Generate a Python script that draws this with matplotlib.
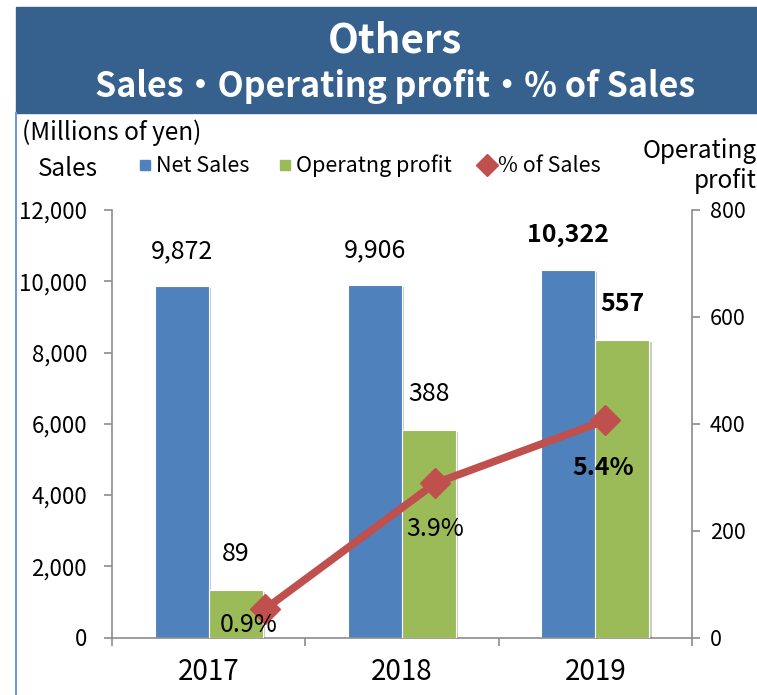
import matplotlib.pyplot as plt
import matplotlib.patheffects as pe
from matplotlib.lines import Line2D
from matplotlib.patches import Rectangle
import numpy as np

plt.rcParams['font.family'] = ['Noto Sans CJK JP', 'DejaVu Sans']

# data
years = ['2017', '2018', '2019']
net_sales = [9872, 9906, 10322]
op_profit = [89, 388, 557]
pct_sales = [0.9, 3.9, 5.4]
highlight = [False, False, True]
legend_names = ['Net Sales', 'Operatng profit', '% of Sales']

blue = '#4F81BD'
green = '#9BBB59'
red = '#C0504D'
axis_col = '#8C8C8C'

fig = plt.figure(figsize=(7.57, 6.95), dpi=100)

# title banner
fig.add_artist(Rectangle((16 / 757, 1 - 113 / 695), 1, 106 / 695,
                         transform=fig.transFigure, color='#36618F', zorder=0))
fig.add_artist(Line2D([16 / 757, 16 / 757], [0, 1 - 113 / 695],
                      transform=fig.transFigure, color='#6F9BD1', lw=1.5))
fig.text(395 / 757, 1 - 41 / 695, 'Others', color='white', fontsize=29,
         fontweight='bold', ha='center', va='center')
fig.text(395 / 757, 1 - 87 / 695, 'Sales・Operating profit・% of Sales',
         color='white', fontsize=24.5, fontweight='bold', ha='center', va='center')

rect = [112 / 757, 1 - 637.5 / 695, 580 / 757, 427.5 / 695]
ax = fig.add_axes(rect)
ax2 = ax.twinx()
ax3 = fig.add_axes(rect)

x = np.arange(len(years))
w = 0.28
shadow = [pe.SimplePatchShadow(offset=(1.5, -1.5), alpha=0.25), pe.Normal()]
b1 = ax.bar(x - w / 2, net_sales, w, color=blue, edgecolor='white', lw=0.8, zorder=2)
b2 = ax2.bar(x + w / 2, op_profit, w, color=green, edgecolor='white', lw=0.8, zorder=2)
for b in list(b1) + list(b2):
    b.set_path_effects(shadow)

ax.set_xlim(-0.5, 2.5)
ax.set_ylim(0, 12000)
ax2.set_ylim(0, 800)
ax.set_yticks(range(0, 12001, 2000))
ax.set_yticklabels([f'{v:,}' for v in range(0, 12001, 2000)])
ax2.set_yticks(range(0, 801, 200))

ax.set_xticks([-0.5, 0.5, 1.5, 2.5])
ax.set_xticklabels([])
ax.set_xticks(x, minor=True)
ax.set_xticklabels(years, minor=True)
ax.tick_params(axis='x', which='major', length=6, color=axis_col, width=1.2)
ax.tick_params(axis='x', which='minor', length=0, pad=14, labelsize=20)
ax.tick_params(axis='y', length=6, color=axis_col, width=1.2, pad=12, labelsize=16)
ax2.tick_params(axis='y', length=6, color=axis_col, width=1.2, pad=7, labelsize=15.5)

for a in (ax, ax2):
    for s in a.spines.values():
        s.set_color(axis_col)
        s.set_linewidth(1.2)
    a.spines['top'].set_visible(False)
ax.spines['right'].set_visible(False)
ax2.spines['left'].set_visible(False)
ax2.spines['bottom'].set_visible(False)

for i in range(len(years)):
    fw = 'bold' if highlight[i] else 'normal'
    ax.annotate(f'{net_sales[i]:,}', (x[i] - w / 2, net_sales[i]), xytext=(0, 25),
                textcoords='offset points', ha='center', va='center',
                fontsize=18, fontweight=fw)
    ax2.annotate(f'{op_profit[i]:,}', (x[i] + w / 2, op_profit[i]), xytext=(0, 26),
                 textcoords='offset points', ha='center', va='center',
                 fontsize=18, fontweight=fw)

# % of sales line on its own hidden axes
ax3.plot(x, pct_sales, color=red, lw=5.5, marker='D', ms=15, zorder=3)
ax3.set_xlim(-0.9, 2.51)
ax3.set_ylim(0.22, 10.42)
ax3.axis('off')
pct_offsets = [(-12, -11.5), (0, -33), (-1.5, -34)]
for i in range(len(years)):
    ax3.annotate(f'{pct_sales[i]}%', (x[i], pct_sales[i]), xytext=pct_offsets[i],
                 textcoords='offset points', ha='center', va='center',
                 fontsize=18, zorder=5,
                 fontweight='bold' if highlight[i] else 'normal')

handles = [Line2D([], [], ls='none', marker='s', ms=7, color=blue),
           Line2D([], [], ls='none', marker='s', ms=7, color=green),
           Line2D([], [], ls='none', marker='D', ms=11, color=red)]
fig.legend(handles, legend_names, loc='center', bbox_to_anchor=(368 / 757, 1 - 166 / 695),
           ncol=3, frameon=False, fontsize=15.5, handletextpad=0.05,
           columnspacing=1.2, handlelength=0.9)

fig.text(22 / 757, 1 - 133 / 695, '(Millions of yen)', ha='left', va='center', fontsize=17.5)
fig.text(68 / 757, 1 - 169 / 695, 'Sales', ha='center', va='center', fontsize=17.5)
fig.text(1.0, 1 - 166 / 695, 'Operating\nprofit', ha='right', va='center',
         ma='right', fontsize=17.5, linespacing=1.15)

fig.savefig('out.png', dpi=100)
